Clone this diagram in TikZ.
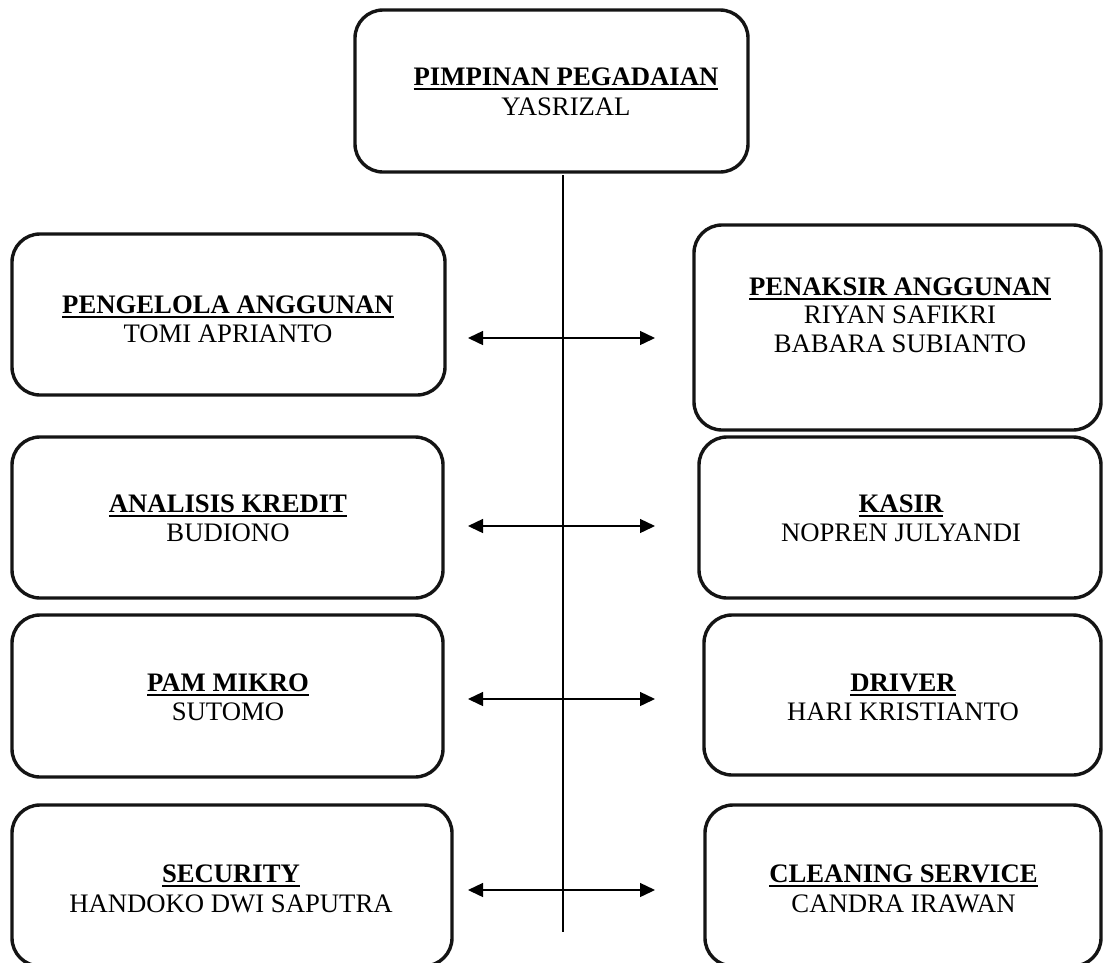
\documentclass[tikz,border=0pt]{standalone}
\usepackage{fontspec}
\setmainfont{Liberation Serif}
\usetikzlibrary{arrows.meta}

% heading with a 2pt rule set a little below the baseline
\newcommand\headline[1]{\setbox0\hbox{#1}\rlap{\vrule height -3pt depth 5pt width \wd0}\box0}

\tikzset{
  orgbox/.style={draw=black!92, line width=3.4pt, rounded corners=28pt, inner sep=0pt},
  title/.style={anchor=base, inner sep=0pt, font=\fontsize{26.7pt}{29pt}\selectfont\bfseries},
  person/.style={anchor=base, inner sep=0pt, font=\fontsize{26.7pt}{29pt}\selectfont},
  link/.style={line width=1.4pt, {Triangle[length=15pt,width=14pt]}-{Triangle[length=15pt,width=14pt]}},
  spine/.style={line width=1.3pt},
}

\begin{document}
\begin{tikzpicture}[x=1pt,y=-1pt]
  \path[fill=white, use as bounding box] (0,0) rectangle (1103,962);

  % boxes
  \node[orgbox, minimum width=393pt, minimum height=162pt] (top) at (551.5,91) {};
  \node[orgbox, minimum width=433pt, minimum height=161pt] (l1) at (228.5,314.5) {};
  \node[orgbox, minimum width=431pt, minimum height=161pt] (l2) at (227.5,517.5) {};
  \node[orgbox, minimum width=431pt, minimum height=162pt] (l3) at (227.5,696) {};
  \node[orgbox, minimum width=440pt, minimum height=161pt] (l4) at (232,885.5) {};
  \node[orgbox, minimum width=407pt, minimum height=205pt] (r1) at (897.5,327.5) {};
  \node[orgbox, minimum width=402pt, minimum height=161pt] (r2) at (900,517.5) {};
  \node[orgbox, minimum width=397pt, minimum height=160pt] (r3) at (902.5,695) {};
  \node[orgbox, minimum width=396pt, minimum height=161pt] (r4) at (903,885.5) {};

  % texts
  \node[title]  (toph) at (566,85)  {\headline{PIMPINAN PEGADAIAN}};
  \node[person] (topn) at (566,115) {YASRIZAL};

  \node[title]  (l1h) at (228,313) {\headline{PENGELOLA ANGGUNAN}};
  \node[person] (l1n) at (228,342) {TOMI APRIANTO};
  \node[title]  (l2h) at (228,512) {\headline{ANALISIS KREDIT}};
  \node[person] (l2n) at (228,541) {BUDIONO};
  \node[title]  (l3h) at (228,691) {\headline{PAM MIKRO}};
  \node[person] (l3n) at (228,720) {SUTOMO};
  \node[title]  (l4h) at (231,882) {\headline{SECURITY}};
  \node[person] (l4n) at (231,912) {HANDOKO DWI SAPUTRA};

  \node[title]  (r1h) at (900,295) {\headline{PENAKSIR ANGGUNAN}};
  \node[person] (r1n) at (900,323) {RIYAN SAFIKRI};
  \node[person] (r1m) at (900,352) {BABARA SUBIANTO};
  \node[title]  (r2h) at (901,512) {\headline{KASIR}};
  \node[person] (r2n) at (901,541) {NOPREN JULYANDI};
  \node[title]  (r3h) at (903,691) {\headline{DRIVER}};
  \node[person] (r3n) at (903,720) {HARI KRISTIANTO};
  \node[title]  (r4h) at (903.5,882) {\headline{CLEANING SERVICE}};
  \node[person] (r4n) at (903.5,912) {CANDRA IRAWAN};

  % central spine
  \coordinate (spineTop) at (563,175);
  \coordinate (spineEnd) at (563,932);
  \draw[spine] (spineTop) -- (spineEnd);

  % two-way links
  \foreach \i/\y in {1/338, 2/526, 3/699, 4/890} {
    \coordinate (a\i w) at (468,\y);
    \coordinate (a\i e) at (655,\y);
    \draw[link] (a\i w) -- (a\i e);
  }
\end{tikzpicture}
\end{document}
